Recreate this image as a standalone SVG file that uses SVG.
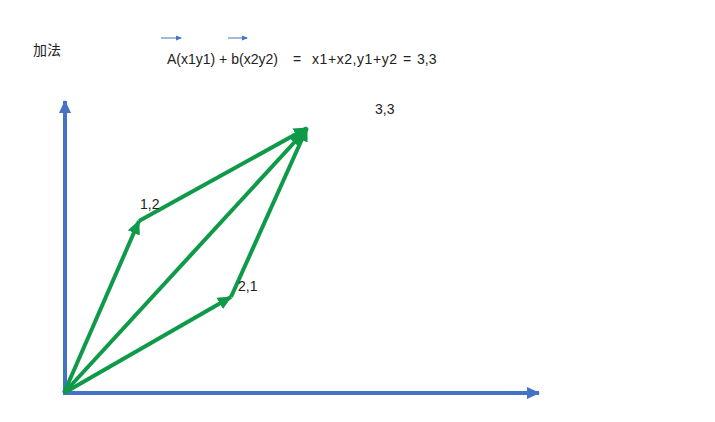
<svg xmlns="http://www.w3.org/2000/svg" width="715" height="422" viewBox="0 0 715 422">
<style>
.t{font-family:"Liberation Sans","Noto Sans CJK SC",sans-serif;fill:#222;}
.ax{stroke:#4472C4;stroke-width:4;fill:none;}
.v{stroke:#0E9A48;stroke-width:4;fill:none;}
.sm{stroke:#4472C4;stroke-width:1;fill:none;}
</style>
<defs>
<marker id="ab" markerUnits="userSpaceOnUse" markerWidth="14" markerHeight="14" refX="12" refY="7" orient="auto" viewBox="0 0 14 14"><path d="M0,1 L13,7 L0,13 z" fill="#4472C4"/></marker>
<marker id="ag" markerUnits="userSpaceOnUse" markerWidth="15" markerHeight="15" refX="13" refY="7.5" orient="auto" viewBox="0 0 15 15"><path d="M0,1 L14,7.5 L0,14 z" fill="#0E9A48"/></marker>
<marker id="as" markerUnits="userSpaceOnUse" markerWidth="6" markerHeight="6" refX="5" refY="3" orient="auto" viewBox="0 0 6 6"><path d="M0,0.5 L6,3 L0,5.5 z" fill="#4472C4"/></marker>
</defs>
<rect width="715" height="422" fill="#fff"/>
<g id="title">
<text class="t" x="33" y="55" font-size="14">加法</text>
<text class="t" y="64" font-size="14"><tspan x="167">A(x1y1) + b(x2y2)</tspan><tspan x="293">=</tspan><tspan x="312" textLength="85" lengthAdjust="spacing">x1+x2,y1+y2</tspan><tspan x="403">=</tspan><tspan x="417">3,3</tspan></text>
<line class="sm" x1="161" y1="38" x2="181" y2="38" marker-end="url(#as)"/>
<line class="sm" x1="228" y1="38" x2="247" y2="38" marker-end="url(#as)"/>
</g>
<g id="axes">
<line class="ax" x1="65" y1="395" x2="65" y2="101" marker-end="url(#ab)"/>
<line class="ax" x1="63" y1="393" x2="539" y2="393" marker-end="url(#ab)"/>
</g>
<g id="connectors">
<line class="v" x1="64" y1="393" x2="139" y2="221" marker-end="url(#ag)"/>
<line class="v" x1="64" y1="393" x2="231" y2="297" marker-end="url(#ag)"/>
<line class="v" x1="64" y1="393" x2="303" y2="133" marker-end="url(#ag)"/>
<line class="v" x1="139" y1="221" x2="307" y2="128" marker-end="url(#ag)"/>
<line class="v" x1="231" y1="297" x2="307" y2="128" marker-end="url(#ag)"/>
</g>
<g id="labels">
<text class="t" x="140" y="209" font-size="14">1,2</text>
<text class="t" x="238" y="291" font-size="14">2,1</text>
<text class="t" x="375" y="114" font-size="14">3,3</text>
</g>
</svg>
